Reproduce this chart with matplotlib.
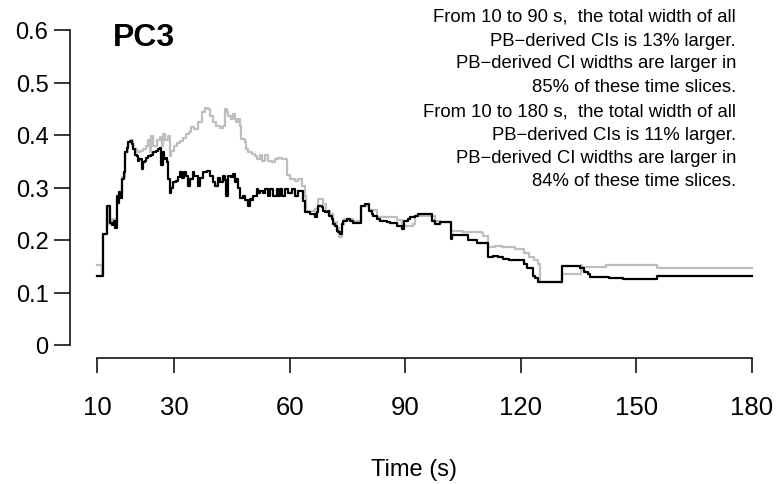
import matplotlib
matplotlib.use('Agg')
import matplotlib.pyplot as plt

plt.rcParams['font.family'] = ['Liberation Sans', 'DejaVu Sans']

# step series: (time, CI width)
black_t = [10.0, 11.6, 12.5, 12.7, 13.3, 13.5, 13.9, 14.3, 14.7, 15.1, 15.4, 15.6, 16.0, 16.4, 16.9,
           17.3, 17.7, 18.1, 18.6, 19.0, 19.4, 19.9, 20.3, 20.7, 21.0, 21.6, 22.0, 22.4, 22.8, 23.3,
           24.0, 24.6, 25.2, 25.9, 26.4, 26.7, 27.0, 27.3, 27.8, 28.2, 28.5, 28.9, 29.3, 29.8, 30.5,
           31.0, 31.5, 32.0, 32.6, 33.2, 33.7, 34.1, 34.8, 35.3, 36.3, 36.7, 37.6, 38.5, 39.3, 40.2,
           40.6, 41.5, 41.9, 42.8, 43.2, 43.6, 44.1, 44.9, 45.4, 45.8, 46.2, 46.7, 47.1, 48.0, 48.4,
           49.3, 49.7, 50.1, 50.6, 51.4, 51.9, 52.3, 53.2, 53.6, 54.5, 54.9, 55.8, 56.6, 57.1, 57.5,
           58.0, 58.8, 59.7, 60.5, 61.4, 62.2, 63.2, 63.5, 64.0, 65.3, 66.6, 67.0, 67.4, 68.3, 68.7,
           69.1, 70.0, 70.3, 70.9, 71.3, 71.8, 72.2, 72.6, 73.1, 73.5, 73.9, 74.8, 75.7, 76.5, 78.4,
           79.6, 80.5, 81.3, 81.7, 82.6, 83.5, 85.2, 86.1, 87.4, 87.8, 89.1, 89.7, 90.8, 91.2, 92.5,
           93.4, 97.0, 97.8, 99.0, 101.9, 102.1, 106.4, 108.5, 111.6, 112.9, 114.0, 115.4, 117.0, 120.8,
           121.5, 123.1, 123.6, 124.5, 130.6, 135.4, 136.3, 137.5, 138.0, 143.0, 146.6, 155.3, 180.0]
black_v = [0.132, 0.212, 0.240, 0.265, 0.250, 0.232, 0.228, 0.236, 0.222, 0.284, 0.270, 0.292, 0.280, 0.316, 0.330,
           0.367, 0.375, 0.386, 0.388, 0.383, 0.373, 0.362, 0.360, 0.350, 0.354, 0.335, 0.348, 0.350, 0.356, 0.360,
           0.362, 0.367, 0.370, 0.373, 0.376, 0.342, 0.367, 0.354, 0.356, 0.348, 0.316, 0.289, 0.300, 0.310, 0.312,
           0.320, 0.329, 0.318, 0.329, 0.322, 0.303, 0.316, 0.329, 0.322, 0.303, 0.318, 0.329, 0.332, 0.322, 0.310,
           0.303, 0.318, 0.310, 0.322, 0.315, 0.284, 0.322, 0.320, 0.326, 0.310, 0.316, 0.300, 0.280, 0.283, 0.276,
           0.265, 0.279, 0.276, 0.283, 0.297, 0.290, 0.293, 0.290, 0.297, 0.283, 0.297, 0.283, 0.297, 0.283, 0.297,
           0.283, 0.297, 0.290, 0.297, 0.283, 0.293, 0.293, 0.274, 0.253, 0.250, 0.243, 0.253, 0.265, 0.262, 0.256,
           0.253, 0.256, 0.246, 0.240, 0.230, 0.227, 0.218, 0.215, 0.211, 0.230, 0.237, 0.240, 0.237, 0.233, 0.265,
           0.268, 0.256, 0.250, 0.246, 0.240, 0.237, 0.235, 0.233, 0.233, 0.227, 0.221, 0.237, 0.240, 0.243, 0.246,
           0.250, 0.237, 0.230, 0.234, 0.202, 0.210, 0.200, 0.195, 0.167, 0.170, 0.167, 0.164, 0.162, 0.155,
           0.146, 0.132, 0.128, 0.120, 0.151, 0.146, 0.140, 0.135, 0.129, 0.127, 0.126, 0.132, 0.132]

gray_t = [10.0, 11.3, 11.6, 12.7, 13.2, 14.0, 14.7, 15.1, 15.6, 16.4, 17.3, 18.1, 18.7, 19.4, 20.3,
          21.2, 22.0, 22.6, 23.3, 23.7, 24.0, 24.6, 25.5, 26.4, 26.8, 27.1, 27.6, 28.3, 28.9, 29.3,
          30.0, 30.7, 31.5, 32.4, 33.2, 33.8, 34.5, 35.3, 36.3, 37.2, 38.0, 38.9, 39.3, 40.2, 41.0,
          41.9, 42.8, 43.2, 43.7, 44.1, 44.9, 45.4, 45.8, 46.2, 46.7, 47.1, 47.5, 48.4, 48.8, 49.3,
          50.1, 51.0, 51.4, 52.3, 52.7, 53.6, 54.5, 55.3, 56.2, 57.1, 58.0, 59.2, 60.1, 61.4, 62.2,
          63.1, 64.0, 64.3, 66.5, 67.4, 68.7, 69.5, 70.5, 71.3, 72.2, 72.8, 73.5, 74.0, 76.5, 78.4,
          79.6, 80.5, 82.6, 86.1, 87.8, 89.1, 89.7, 92.0, 92.6, 97.0, 97.8, 99.0, 102.0, 105.0, 109.9,
          110.3, 111.6, 113.3, 115.0, 118.6, 120.9, 122.1, 123.5, 124.5, 125.0, 130.6, 135.5, 136.0,
          142.0, 155.3, 180.0]
gray_v = [0.152, 0.132, 0.212, 0.262, 0.230, 0.240, 0.225, 0.280, 0.292, 0.320, 0.367, 0.386, 0.390, 0.373, 0.367,
          0.370, 0.373, 0.380, 0.390, 0.367, 0.398, 0.380, 0.390, 0.396, 0.380, 0.402, 0.390, 0.398, 0.360, 0.370,
          0.379, 0.384, 0.389, 0.395, 0.401, 0.405, 0.415, 0.412, 0.424, 0.443, 0.452, 0.449, 0.437, 0.424, 0.418,
          0.414, 0.418, 0.449, 0.443, 0.437, 0.430, 0.440, 0.430, 0.424, 0.430, 0.418, 0.392, 0.386, 0.373, 0.367,
          0.364, 0.360, 0.354, 0.361, 0.351, 0.361, 0.351, 0.348, 0.354, 0.357, 0.354, 0.324, 0.316, 0.313, 0.316,
          0.303, 0.284, 0.255, 0.260, 0.278, 0.268, 0.256, 0.250, 0.235, 0.222, 0.205, 0.228, 0.240, 0.236, 0.265,
          0.265, 0.258, 0.243, 0.243, 0.238, 0.230, 0.227, 0.230, 0.245, 0.245, 0.237, 0.234, 0.217, 0.216, 0.214,
          0.208, 0.186, 0.189, 0.186, 0.183, 0.175, 0.167, 0.161, 0.155, 0.120, 0.136, 0.153, 0.149,
          0.152, 0.146, 0.146]

x_ticks = [10, 30, 60, 90, 120, 150, 180]
y_ticks = [0, 0.1, 0.2, 0.3, 0.4, 0.5, 0.6]
y_labels = ['0', '0.1', '0.2', '0.3', '0.4', '0.5', '0.6']

note_lines = ['From 10 to 90 s,  the total width of all',
              'PB\u2212derived CIs is 13% larger.',
              'PB\u2212derived CI widths are larger in',
              '85% of these time slices.',
              'From 10 to 180 s,  the total width of all',
              'PB\u2212derived CIs is 11% larger.',
              'PB\u2212derived CI widths are larger in',
              '84% of these time slices.']

W, H = 778, 485
fig = plt.figure(figsize=(W / 100, H / 100), dpi=100)
ax = fig.add_axes([97 / W, (H - 346) / H, 655 / W, 315 / H])

ax.step(gray_t, gray_v, where='post', color='#bebebe', lw=1.6, clip_on=False)
ax.step(black_t, black_v, where='post', color='black', lw=1.6, clip_on=False)

ax.set_xlim(10, 180)
ax.set_ylim(0, 0.6)
for s in ['top', 'right']:
    ax.spines[s].set_visible(False)
ax.spines['left'].set_position(('outward', 19.5))
ax.spines['bottom'].set_position(('outward', 9.4))
ax.spines['left'].set_bounds(0, 0.6)
ax.spines['bottom'].set_bounds(10, 180)
for s in ['left', 'bottom']:
    ax.spines[s].set_linewidth(1.1)

ax.set_xticks(x_ticks)
ax.set_xticklabels([str(v) for v in x_ticks], fontsize=18.5)
ax.set_yticks(y_ticks)
ax.set_yticklabels(y_labels, fontsize=17)
ax.tick_params(axis='y', length=11.5, width=1.1, pad=4)
ax.tick_params(axis='x', length=10.8, width=1.1, pad=16)

fig.text(414 / W, 1 - 470 / H, 'Time (s)', fontsize=17, ha='center', va='center')
fig.text(113 / W, 1 - 38 / H, 'PC3', fontsize=23, fontweight='bold', ha='left', va='center')

line_y = [17, 41, 64, 88, 112, 136, 159, 182]
for txt, yy in zip(note_lines, line_y):
    fig.text(736 / W, 1 - yy / H, txt, fontsize=13.3, ha='right', va='center')

fig.savefig('out.png', dpi=100)
